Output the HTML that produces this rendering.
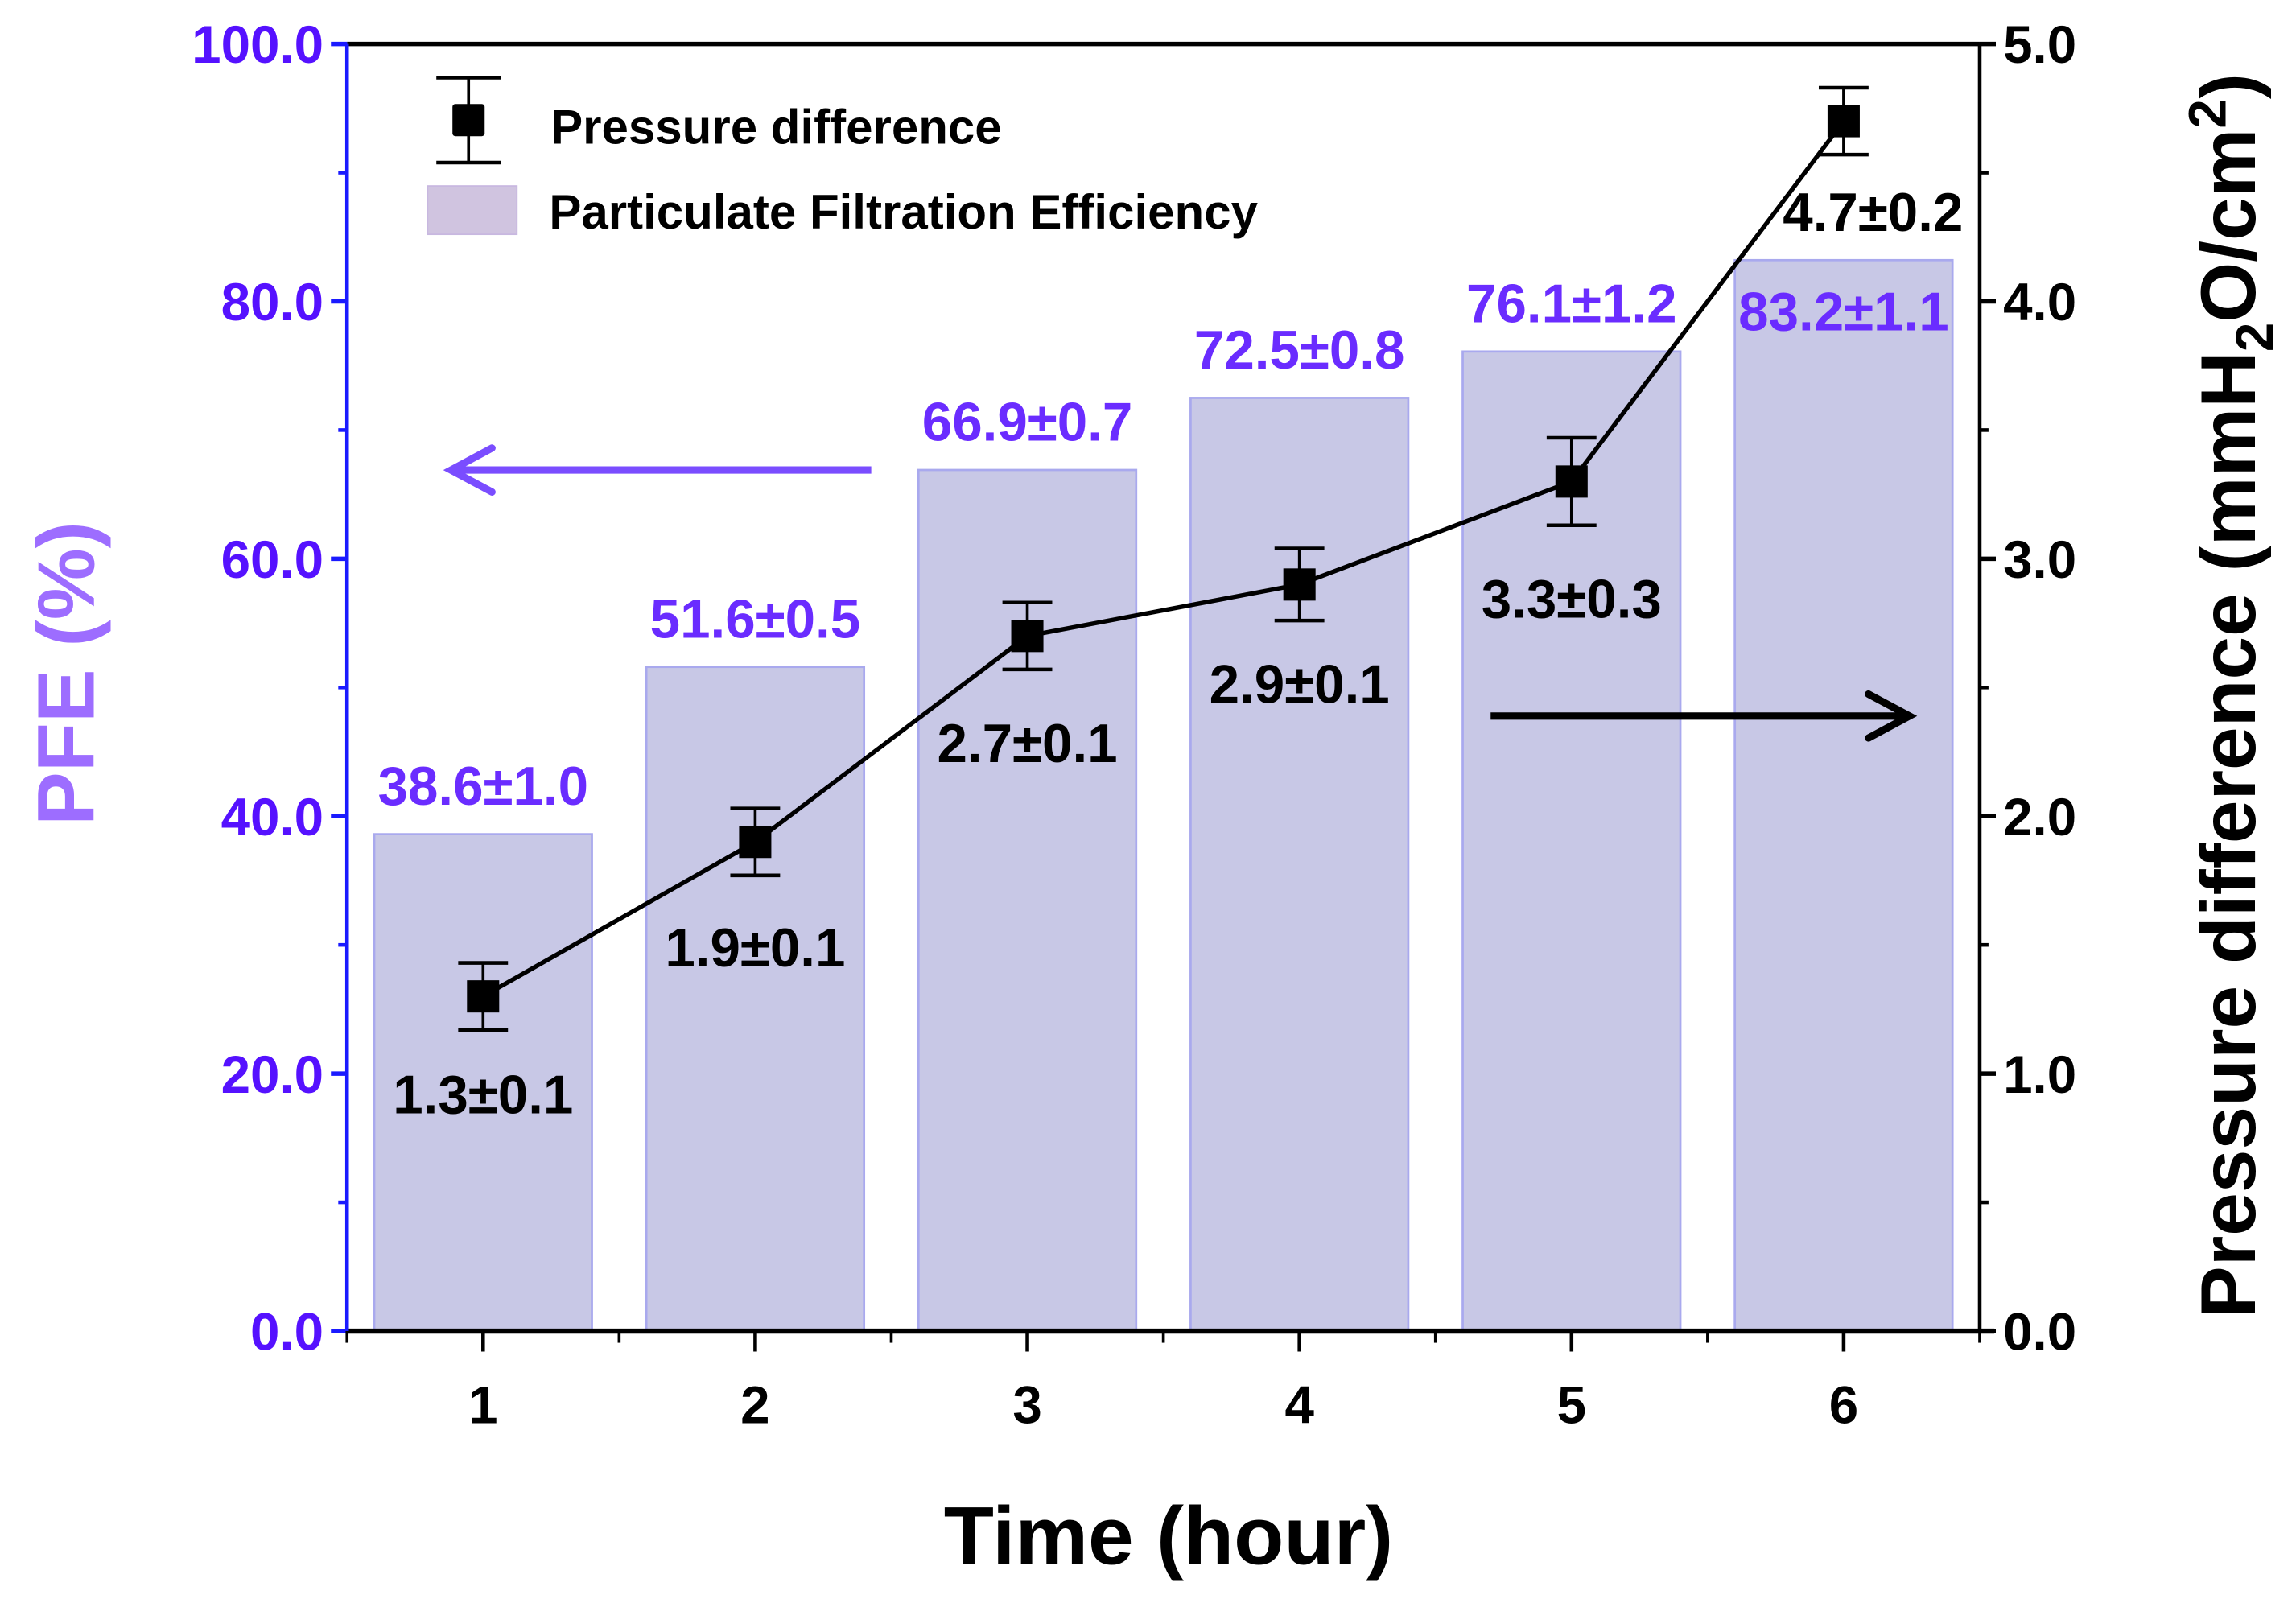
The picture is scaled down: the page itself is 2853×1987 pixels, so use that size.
<!DOCTYPE html>
<html><head><meta charset="utf-8"><style>
html,body{margin:0;padding:0;background:#fff}
svg{display:block}
text{font-family:"Liberation Sans",Arial,sans-serif;font-weight:bold}
</style></head><body>
<svg id="chart" xmlns="http://www.w3.org/2000/svg" width="2853" height="1987" viewBox="0 0 1568 1092" preserveAspectRatio="none">
<g id="bars"></g>
<g id="axes"></g>
<g id="series"></g>
<g id="labels"></g>
<g id="legend">
  <line x1="320" y1="53" x2="320" y2="111" stroke="#000" stroke-width="2"/>
  <line x1="298" y1="53" x2="342" y2="53" stroke="#000" stroke-width="2.5"/>
  <line x1="298" y1="111" x2="342" y2="111" stroke="#000" stroke-width="2.5"/>
  <rect x="309" y="71" width="22" height="22" rx="2" fill="#000"/>
  <text x="376" y="98" font-size="33" fill="#000">Pressure difference</text>
  <rect x="292" y="127" width="61" height="33" fill="#d0c4e0" stroke="#c8b8e0"/>
  <text x="375" y="156" font-size="33" fill="#000">Particulate Filtration Efficiency</text>
</g>
<g>
  <line x1="595" y1="321" x2="312" y2="321" stroke="#7a4dff" stroke-width="5"/>
  <path d="M336,306 L308,321 L336,336" fill="none" stroke="#7a4dff" stroke-width="5" stroke-linecap="round"/>
</g>
<g>
  <line x1="1018" y1="489" x2="1300" y2="489" stroke="#000" stroke-width="5"/>
  <path d="M1276,474 L1304,489 L1276,504" fill="none" stroke="#000" stroke-width="5" stroke-linecap="round"/>
</g>
<text x="798" y="1068" font-size="56" text-anchor="middle" fill="#000">Time (hour)</text>
<text transform="translate(64,460) rotate(-90)" font-size="55" text-anchor="middle" fill="#9d6dff">PFE (%)</text>
<text transform="translate(1540,475) rotate(-90)" font-size="53" text-anchor="middle" fill="#000">Pressure difference (mmH<tspan font-size="36" dy="12">2</tspan><tspan dy="-12">O/cm</tspan><tspan font-size="36" dy="-20">2</tspan><tspan dy="20">)</tspan></text>
</svg>
<script>
const categories = [1, 2, 3, 4, 5, 6];
const pfeValues = [38.6, 51.6, 66.9, 72.5, 76.1, 83.2];
const pfeLabels = ["38.6±1.0", "51.6±0.5", "66.9±0.7", "72.5±0.8", "76.1±1.2", "83.2±1.1"];
const pressureValues = [1.3, 1.9, 2.7, 2.9, 3.3, 4.7];
const pressureErr = [0.13, 0.13, 0.13, 0.14, 0.17, 0.13];
const pressureLabels = ["1.3±0.1", "1.9±0.1", "2.7±0.1", "2.9±0.1", "3.3±0.3", "4.7±0.2"];
const leftTicks = [0, 20, 40, 60, 80, 100];
const rightTicks = [0, 1, 2, 3, 4, 5];

const NS = "http://www.w3.org/2000/svg";
const L = 237, R = 1352, T = 30, B = 909;
const xS = v => L + (v - 0.5) / 6 * (R - L);
const yL = v => B - v / 100 * (B - T);
const yR = v => B - v / 5 * (B - T);
function mk(tag, attrs, parent, txt) {
  const e = document.createElementNS(NS, tag);
  for (const k in attrs) e.setAttribute(k, attrs[k]);
  if (txt !== undefined) e.textContent = txt;
  parent.appendChild(e);
  return e;
}
const gB = document.getElementById("bars"), gA = document.getElementById("axes"),
      gS = document.getElementById("series"), gL = document.getElementById("labels");
const bw = 0.8 / 6 * (R - L);
categories.forEach((c, i) => {
  const r = mk("rect", {x: xS(c) - bw / 2, y: yL(pfeValues[i]), width: bw, height: B - yL(pfeValues[i]), fill: "#c8c8e6", stroke: "#a9a9ee", "stroke-width": 1.5}, gB);
  
  
});
let e;
e = mk("line", {x1: L, y1: T, x2: R, y2: T, stroke: "#000", "stroke-width": 3}, gA);


e = mk("line", {x1: L, y1: B, x2: R + 10, y2: B, stroke: "#000", "stroke-width": 3.5}, gA);


e = mk("line", {x1: R, y1: T, x2: R, y2: B, stroke: "#000", "stroke-width": 2.5}, gA);


e = mk("line", {x1: L, y1: T, x2: L, y2: B, stroke: "#1a1aff", "stroke-width": 2.5}, gA);


leftTicks.forEach(t => {
  mk("line", {x1: L - 11, y1: yL(t), x2: L, y2: yL(t), stroke: "#1a1aff", "stroke-width": 3}, gA);
  if (t < 100) mk("line", {x1: L - 6, y1: yL(t + 10), x2: L, y2: yL(t + 10), stroke: "#1a1aff", "stroke-width": 2.5}, gA);
  const tx = mk("text", {x: L - 16, y: yL(t) + 13, "font-size": 36, "text-anchor": "end", fill: "#5511ff"}, gA, t.toFixed(1));
  
  
});
rightTicks.forEach(t => {
  mk("line", {x1: R, y1: yR(t), x2: R + 11, y2: yR(t), stroke: "#000", "stroke-width": 3}, gA);
  if (t < 5) mk("line", {x1: R, y1: yR(t + 0.5), x2: R + 6, y2: yR(t + 0.5), stroke: "#000", "stroke-width": 2.5}, gA);
  const tx = mk("text", {x: R + 16, y: yR(t) + 13, "font-size": 36, fill: "#000"}, gA, t.toFixed(1));
  
  
});
categories.forEach(c => {
  mk("line", {x1: xS(c), y1: B, x2: xS(c), y2: B + 14, stroke: "#000", "stroke-width": 2.5}, gA);
  mk("line", {x1: xS(c - 0.5), y1: B, x2: xS(c - 0.5), y2: B + 8, stroke: "#000", "stroke-width": 2}, gA);
  const tx = mk("text", {x: xS(c), y: B + 63, "font-size": 36, "text-anchor": "middle", fill: "#000"}, gA, String(c));
  
  
});
mk("line", {x1: R, y1: B, x2: R, y2: B + 8, stroke: "#000", "stroke-width": 2}, gA);
const pts = categories.map((c, i) => xS(c) + "," + yR(pressureValues[i])).join(" ");
e = mk("polyline", {points: pts, fill: "none", stroke: "#000", "stroke-width": 3}, gS);


categories.forEach((c, i) => {
  const x = xS(c), y = yR(pressureValues[i]), y1 = yR(pressureValues[i] + pressureErr[i]), y2 = yR(pressureValues[i] - pressureErr[i]);
  const g = mk("g", {}, gS);
  
  
  mk("line", {x1: x, y1: y1, x2: x, y2: y2, stroke: "#000", "stroke-width": 2}, g);
  mk("line", {x1: x - 17, y1: y1, x2: x + 17, y2: y1, stroke: "#000", "stroke-width": 2.5}, g);
  mk("line", {x1: x - 17, y1: y2, x2: x + 17, y2: y2, stroke: "#000", "stroke-width": 2.5}, g);
  mk("rect", {x: x - 11, y: y - 11, width: 22, height: 22, fill: "#000"}, g);
});
const pOff = [[0, 80], [0, 85], [0, 86], [0, 81], [0, 93], [20, 75]];
categories.forEach((c, i) => {
  const py = i === 5 ? yL(pfeValues[i]) + 48 : yL(pfeValues[i]) - 20;
  const t1 = mk("text", {x: xS(c), y: py, "font-size": 37, "text-anchor": "middle", fill: "#6a2cff"}, gL, pfeLabels[i]);
  
  
  const t2 = mk("text", {x: xS(c) + pOff[i][0], y: yR(pressureValues[i]) + pOff[i][1], "font-size": 37, "text-anchor": "middle", fill: "#000"}, gL, pressureLabels[i]);
  
  
});
</script>
</body></html>
